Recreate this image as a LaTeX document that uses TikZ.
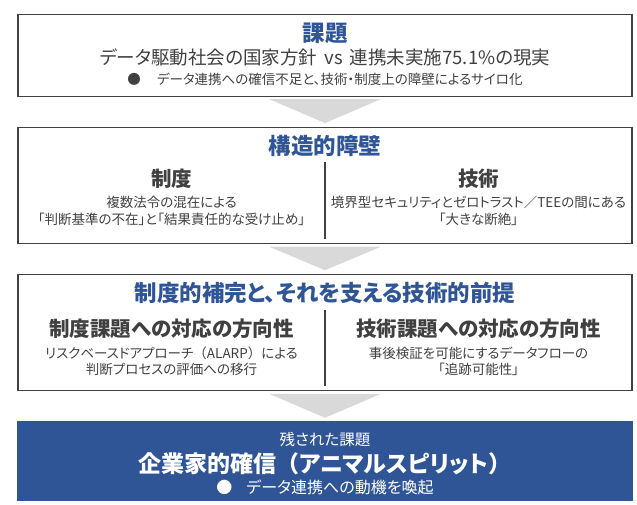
\documentclass[tikz,border=0pt]{standalone}
\usepackage{fontspec}
\newfontfamily\jpfont{Noto Sans CJK JP}[RawFeature=+palt]
\newfontfamily\jpfull{Noto Sans CJK JP}
\usetikzlibrary{positioning,calc}
\definecolor{titleblue}{HTML}{2F5597}
\definecolor{darktext}{HTML}{404040}
\definecolor{boxline}{HTML}{404040}
\definecolor{arrowgrey}{HTML}{D9D9D9}
\newcommand{\setfs}[2]{\fontsize{#1}{#2}\selectfont}
\tikzset{
	stagebox/.style={draw=boxline, line width=1.1pt, minimum width=614pt, inner sep=0pt},
	headtext/.style={font={\jpfont\bfseries\setfs{22.5}{26}}, text=titleblue},
	subhead/.style={font={\jpfont\bfseries\setfs{20.5}{24}}, text=darktext},
	bodytext/.style={font={\jpfont\setfs{13.5}{16.5}}, text=darktext, align=center},
	flowarrow/.style={fill=arrowgrey, draw=none},
	divline/.style={draw=boxline, line width=1.1pt}
}
\begin{document}
\begin{tikzpicture}
	\useasboundingbox (0,0) rectangle (637pt,-504pt);
	% draw rectangle node
	\node[stagebox,
	minimum height=81.5pt,
	anchor=north] (issuebox) at (325pt,-14pt) {};
	\node[stagebox,
	minimum height=116.5pt,
	below=30pt of issuebox] (barrierbox) {};
	\node[stagebox,
	minimum height=116.5pt,
	below=29.5pt of barrierbox] (premisebox) {};
	\node[stagebox,
	draw=titleblue,
	fill=titleblue,
	minimum height=79pt,
	below=30pt of premisebox] (remainbox) {};
	
	% issue texts
	\node[headtext] (issuehead) at ($(issuebox.north)+(0,-19pt)$) {課題};
	\node[font={\jpfont\setfs{18.5}{22}}, text=darktext] (issuemain) at ($(issuebox.north)+(0,-43.5pt)$) {データ駆動社会の国家方針\hspace{3pt} vs\hspace{3pt} 連携未実施75.1\%の現実};
	\node[bodytext] (issuenote) at ($(issuebox.north)+(0,-65.5pt)$) {●\hspace{16pt}データ連携への確信不足と、技術・制度上の障壁によるサイロ化};
	
	% barrier texts
	\node[headtext] (barrierhead) at ($(barrierbox.north)+(0,-19.5pt)$) {構造的障壁};
	\node[subhead] (lawhead) at ($(barrierbox.north)+(-153.5pt,-52pt)$) {制度};
	\node[subhead] (techhead) at ($(barrierbox.north)+(153.5pt,-52pt)$) {技術};
	\node[bodytext] (lawtext) at ($(barrierbox.north)+(-153.5pt,-84.5pt)$) {複数法令の混在による\\「判断基準の不在」と「結果責任的な受け止め」};
	\node[bodytext] (techtext) at ($(barrierbox.north)+(153.5pt,-84.5pt)$) {境界型セキュリティとゼロトラスト／TEEの間にある\\「大きな断絶」};
	\draw[divline] ($(barrierbox.north)+(0,-35pt)$) -- ($(barrierbox.south)+(0,5pt)$);
	
	% premise texts
	\node[headtext] (premisehead) at ($(premisebox.north)+(0,-19.5pt)$) {制度的補完と、それを支える技術的前提};
	\node[subhead] (lawway) at ($(premisebox.north)+(-153.5pt,-55pt)$) {制度課題への対応の方向性};
	\node[subhead] (techway) at ($(premisebox.north)+(153.5pt,-55pt)$) {技術課題への対応の方向性};
	\node[bodytext] (lawwaytext) at ($(premisebox.north)+(-153.5pt,-87.5pt)$) {リスクベースドアプローチ{\jpfull （}ALARP{\jpfull ）}による\\判断プロセスの評価への移行};
	\node[bodytext] (techwaytext) at ($(premisebox.north)+(153.5pt,-87.5pt)$) {事後検証を可能にするデータフローの\\「追跡可能性」};
	\draw[divline] ($(premisebox.north)+(0,-36pt)$) -- ($(premisebox.south)+(0,5pt)$);
	
	% remaining issue texts
	\node[font={\jpfont\setfs{15.5}{18}}, text=white] (remainhead) at ($(remainbox.north)+(0,-18pt)$) {残された課題};
	\node[font={\jpfont\bfseries\setfs{23}{27}}, text=white] (remainmain) at ($(remainbox.north)+(0,-42pt)$) {企業家的確信{\jpfull （}アニマルスピリット{\jpfull ）}};
	\node[font={\jpfont\setfs{16}{19}}, text=white] (remainnote) at ($(remainbox.north)+(0,-66pt)$) {●\hspace{14pt}データ連携への動機を喚起};
	
	% Arrows
	\fill[flowarrow] ($(issuebox.south)+(-56pt,-2.5pt)$) -- ($(issuebox.south)+(56pt,-2.5pt)$) -- ($(barrierbox.north)+(0,3.5pt)$) -- cycle;
	\fill[flowarrow] ($(barrierbox.south)+(-56pt,-2.5pt)$) -- ($(barrierbox.south)+(56pt,-2.5pt)$) -- ($(premisebox.north)+(0,3.5pt)$) -- cycle;
	\fill[flowarrow] ($(premisebox.south)+(-56pt,-2.5pt)$) -- ($(premisebox.south)+(56pt,-2.5pt)$) -- ($(remainbox.north)+(0,3.5pt)$) -- cycle;
\end{tikzpicture}
\end{document}
